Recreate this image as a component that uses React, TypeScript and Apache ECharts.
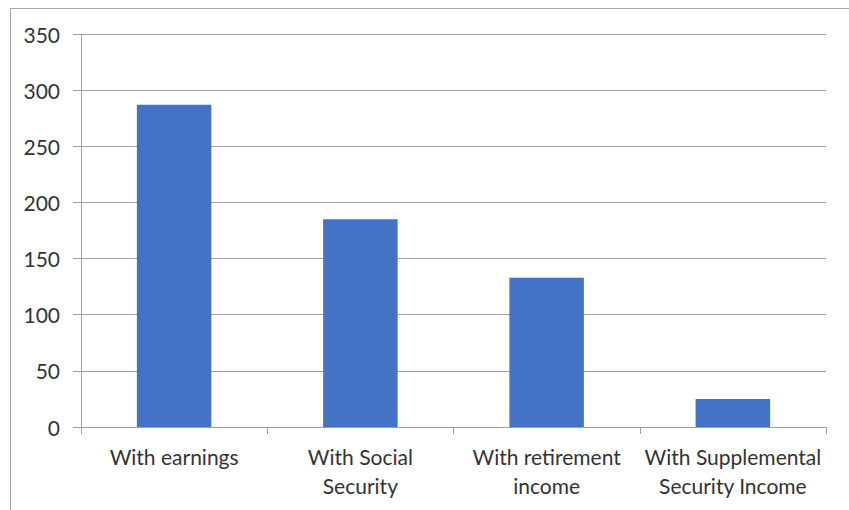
import React, { useEffect, useRef } from "react";
import * as echarts from "echarts";

const categories = [
  "With earnings",
  "With Social\nSecurity",
  "With retirement\nincome",
  "With Supplemental\nSecurity Income",
];
const values = [287, 185, 133, 25];
const yTicks = { min: 0, max: 350, interval: 50 };

export default function App() {
  const ref = useRef<HTMLDivElement>(null);
  useEffect(() => {
    if (!ref.current) return;
    const chart = echarts.init(ref.current, undefined, { renderer: "svg" });
    const font = "Lato, 'Open Sans', sans-serif";
    chart.setOption({
      animation: false,
      backgroundColor: "#ffffff",
      graphic: [
        {
          type: "rect",
          shape: { x: 10.5, y: 8.5, width: 900, height: 600 },
          style: { fill: "none", stroke: "#a6a6a6", lineWidth: 1 },
          silent: true,
        },
      ],
      grid: { left: 81, right: 23, top: 34, bottom: 83, containLabel: false },
      xAxis: {
        type: "category",
        data: categories,
        axisLine: { show: true, lineStyle: { color: "#a0a0a0", width: 1 } },
        axisTick: { show: true, length: 7, lineStyle: { color: "#a0a0a0" } },
        axisLabel: {
          color: "#333333",
          fontFamily: font,
          fontSize: 21,
          lineHeight: 29,
          margin: 15,
          interval: 0,
        },
      },
      yAxis: {
        type: "value",
        min: yTicks.min,
        max: yTicks.max,
        interval: yTicks.interval,
        axisLine: { show: true, lineStyle: { color: "#a0a0a0", width: 1 } },
        axisTick: { show: true, length: 8, lineStyle: { color: "#a0a0a0" } },
        splitLine: { show: true, lineStyle: { color: "#a0a0a0", width: 1 } },
        axisLabel: {
          color: "#333333",
          fontFamily: font,
          fontSize: 21,
          margin: 21,
        },
      },
      series: [
        {
          type: "bar",
          data: values,
          barWidth: "40%",
          itemStyle: { color: "#4472C4" },
        },
      ],
    });
    return () => chart.dispose();
  }, []);
  return (
    <div style={{ position: "absolute", left: 0, top: 0 }}>
      <div ref={ref} style={{ width: 849, height: 510 }} />
    </div>
  );
}
